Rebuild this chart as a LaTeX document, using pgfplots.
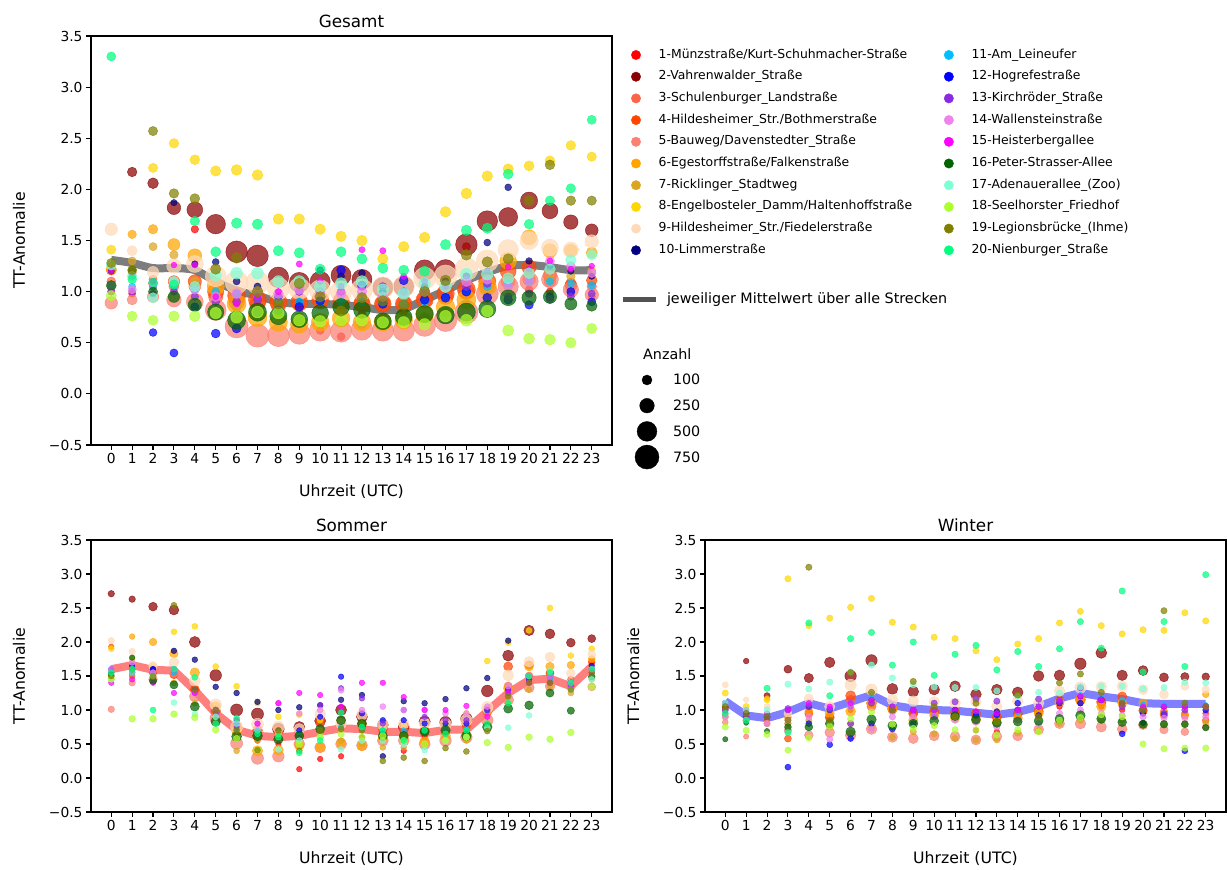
\documentclass[border=0pt]{standalone}
\usepackage{fontspec}
\setmainfont{DejaVu Sans}
\usepackage{pgfplots}
\usepackage{pgfplotstable}
\pgfplotsset{compat=1.18}

\newcommand{\tickfont}{\fontsize{13.8}{16}\selectfont}
\newcommand{\labfont}{\fontsize{15.7}{18}\selectfont}
\newcommand{\titfont}{\fontsize{16.8}{19}\selectfont}
\newcommand{\legfont}{\fontsize{12.4}{15}\selectfont}
\newcommand{\legfontb}{\fontsize{14.3}{17}\selectfont}

\definecolor{c1}{HTML}{FF0000}
\definecolor{c2}{HTML}{8B0000}
\definecolor{c3}{HTML}{FF6347}
\definecolor{c4}{HTML}{FF4500}
\definecolor{c5}{HTML}{FA8072}
\definecolor{c6}{HTML}{FFA500}
\definecolor{c7}{HTML}{DAA520}
\definecolor{c8}{HTML}{FFD700}
\definecolor{c9}{HTML}{FFDAB9}
\definecolor{c10}{HTML}{000080}
\definecolor{c11}{HTML}{00BFFF}
\definecolor{c12}{HTML}{0000FF}
\definecolor{c13}{HTML}{8A2BE2}
\definecolor{c14}{HTML}{EE82EE}
\definecolor{c15}{HTML}{FF00FF}
\definecolor{c16}{HTML}{006400}
\definecolor{c17}{HTML}{7FFFD4}
\definecolor{c18}{HTML}{ADFF2F}
\definecolor{c19}{HTML}{808000}
\definecolor{c20}{HTML}{00FF7F}

% TT-Anomalie per station and hour (Gesamt)
\pgfplotstableread{
h a1 a2 a3 a4 a5 a6 a7 a8 a9 a10 a11 a12 a13 a14 a15 a16 a17 a18 a19 a20
0 1.00 nan 1.10 1.21 0.89 1.22 1.25 1.41 1.61 1.20 1.05 nan 1.00 1.05 1.20 1.06 1.26 0.96 1.28 3.30
1 0.98 2.17 1.15 1.19 0.92 1.56 1.30 nan 1.40 1.15 1.05 nan 1.00 1.02 1.15 1.21 1.15 0.76 1.21 1.12
2 1.05 2.06 1.12 1.08 0.95 1.61 1.44 2.21 1.19 1.10 1.05 0.60 0.98 1.08 1.10 1.00 0.94 0.72 2.57 1.09
3 1.08 1.82 1.05 1.10 0.92 1.46 1.36 2.45 1.25 1.87 1.05 0.40 1.00 1.10 1.26 0.95 1.10 0.76 1.96 1.07
4 1.61 1.80 1.05 1.10 0.90 1.35 1.10 2.29 1.27 1.27 1.02 0.85 0.95 1.02 1.26 0.87 1.05 0.76 1.91 1.69
5 0.98 1.66 0.95 1.00 0.82 1.05 0.95 2.18 1.15 1.29 1.00 0.59 0.90 0.95 0.95 0.80 1.16 0.79 1.22 1.39
6 0.90 1.39 0.90 0.96 0.66 0.88 0.85 2.19 1.09 1.10 0.98 0.64 0.90 0.98 0.88 0.72 1.18 0.75 1.33 1.67
7 0.85 1.35 0.88 0.92 0.57 0.75 0.75 2.14 1.09 1.05 0.95 0.80 0.92 1.00 0.95 0.80 1.18 0.80 1.00 1.66
8 0.80 1.14 0.87 0.90 0.57 0.70 0.82 1.71 1.03 0.95 0.92 0.82 0.95 0.98 1.00 0.76 1.10 0.79 0.88 1.40
9 0.70 1.09 0.88 0.90 0.59 0.68 0.75 1.71 1.03 0.90 0.90 0.85 1.00 1.02 1.27 0.73 1.10 0.72 1.08 1.38
10 0.62 1.10 0.90 0.92 0.62 0.70 0.72 1.61 1.01 1.21 0.90 0.91 1.00 1.00 1.10 0.79 1.05 0.71 0.95 1.22
11 0.56 1.16 0.92 0.90 0.61 0.74 0.70 1.54 1.00 1.15 0.90 1.21 1.00 0.98 1.05 0.85 1.08 0.72 0.81 1.39
12 0.78 1.12 0.90 0.88 0.63 0.70 0.68 1.50 1.02 1.18 0.90 1.06 1.05 1.00 1.41 0.82 1.10 0.72 0.94 1.32
13 0.75 1.04 0.88 0.88 0.62 0.70 0.70 1.32 1.04 1.00 0.88 0.88 1.05 0.95 1.40 0.71 1.02 0.70 0.91 1.23
14 0.80 1.05 0.88 0.88 0.62 0.72 0.72 1.44 1.05 1.00 0.88 1.11 1.00 0.98 1.15 0.75 0.98 0.70 0.87 1.21
15 0.88 1.21 0.92 0.92 0.67 0.78 0.75 1.53 1.13 1.05 0.90 0.92 1.02 1.00 1.10 0.78 1.08 0.68 1.00 1.20
16 1.00 1.21 0.95 0.98 0.72 0.85 0.80 1.78 1.15 1.10 0.95 0.94 1.08 1.04 1.05 0.77 1.05 0.76 1.11 1.46
17 1.44 1.46 1.00 1.02 0.80 0.92 0.88 1.96 1.22 1.15 1.00 1.00 1.05 1.10 1.15 0.80 1.17 0.72 1.36 1.60
18 1.10 1.69 1.05 1.10 0.98 1.05 0.95 2.13 1.30 1.48 1.05 0.94 1.08 1.12 1.20 0.83 1.17 0.81 1.29 1.62
19 1.05 1.73 1.10 1.20 1.05 1.30 1.05 2.20 1.41 2.02 1.08 0.92 0.95 1.05 1.24 0.94 1.13 0.62 1.32 2.15
20 1.02 1.89 1.12 1.24 1.10 1.53 1.10 2.23 1.50 1.30 1.10 0.87 0.98 1.10 1.22 0.94 1.18 0.54 1.89 1.66
21 1.00 1.79 1.10 1.16 1.12 1.40 1.12 2.28 1.43 1.25 1.10 0.95 0.92 1.30 1.30 0.95 1.22 0.53 2.24 1.89
22 0.98 1.68 1.08 1.06 1.02 1.40 1.15 2.43 1.41 1.20 1.08 1.00 0.95 1.25 1.22 0.88 1.31 0.50 1.89 2.01
23 0.95 1.60 1.05 1.11 0.97 1.38 1.20 2.32 1.49 1.15 1.06 0.90 0.98 1.18 1.25 0.86 1.36 0.64 1.89 2.68
}\gval
% Anzahl per station and hour (Gesamt)
\pgfplotstableread{
h n1 n2 n3 n4 n5 n6 n7 n8 n9 n10 n11 n12 n13 n14 n15 n16 n17 n18 n19 n20
0 42 150 75 100 175 110 63 84 175 28 42 56 42 70 21 100 105 105 84 77
1 40 90 45 60 105 68 59 79 105 26 40 53 40 66 20 60 99 99 79 73
2 41 120 60 80 140 90 61 82 140 27 41 54 41 68 20 80 102 102 82 75
3 44 210 105 140 245 158 67 89 245 30 44 59 44 74 22 140 111 111 89 81
4 48 300 150 200 350 225 72 96 350 32 48 64 48 80 24 200 120 120 96 88
5 55 480 240 320 560 360 83 110 560 37 55 74 55 92 28 320 138 138 110 101
6 60 600 300 400 700 450 90 120 700 40 60 80 60 100 30 400 150 150 120 110
7 60 600 300 400 700 450 90 120 700 40 60 80 60 100 30 400 150 150 120 110
8 58 540 270 360 630 405 86 115 630 38 58 77 58 96 29 360 144 144 115 106
9 56 510 255 340 595 383 85 113 595 38 56 75 56 94 28 340 141 141 113 103
10 56 510 255 340 595 383 85 113 595 38 56 75 56 94 28 340 141 141 113 103
11 56 510 255 340 595 383 85 113 595 38 56 75 56 94 28 340 141 141 113 103
12 56 510 255 340 595 383 85 113 595 38 56 75 56 94 28 340 141 141 113 103
13 56 510 255 340 595 383 85 113 595 38 56 75 56 94 28 340 141 141 113 103
14 56 510 255 340 595 383 85 113 595 38 56 75 56 94 28 340 141 141 113 103
15 58 540 270 360 630 405 86 115 630 38 58 77 58 96 29 360 144 144 115 106
16 59 570 285 380 665 428 88 118 665 39 59 78 59 98 29 380 147 147 118 108
17 60 600 300 400 700 450 90 120 700 40 60 80 60 100 30 400 150 150 120 110
18 58 540 270 360 630 405 86 115 630 38 58 77 58 96 29 360 144 144 115 106
19 54 450 225 300 525 338 81 108 525 36 54 72 54 90 27 300 135 135 108 99
20 50 360 180 240 420 270 76 101 420 34 50 67 50 84 25 240 126 126 101 92
21 48 300 150 200 350 225 72 96 350 32 48 64 48 80 24 200 120 120 96 88
22 46 240 120 160 280 180 68 91 280 30 46 61 46 76 23 160 114 114 91 84
23 43 180 90 120 210 135 65 86 210 29 43 58 43 72 22 120 108 108 86 79
}\gcnt

% Sommer
\pgfplotstableread{
h a1 a2 a3 a4 a5 a6 a7 a8 a9 a10 a11 a12 a13 a14 a15 a16 a17 a18 a19 a20
0 1.55 2.71 1.55 1.93 1.01 1.45 1.45 1.90 2.02 1.50 1.55 1.60 1.55 1.60 1.40 1.52 1.45 1.46 1.50 1.55
1 1.50 2.63 1.55 1.54 1.40 2.08 1.50 1.75 1.86 1.55 1.60 1.65 1.60 1.70 1.45 1.77 1.55 0.87 1.60 1.60
2 1.55 2.52 1.55 1.54 1.45 2.00 1.45 1.65 1.65 1.60 1.55 1.60 1.55 1.55 1.40 1.43 1.50 0.87 1.50 1.00
3 1.60 2.47 1.52 1.52 1.55 1.83 1.40 2.15 1.70 1.87 1.55 1.60 1.60 1.60 1.25 1.37 1.11 0.94 2.54 1.60
4 1.30 2.00 1.30 1.30 1.20 1.55 1.10 2.23 1.43 1.74 1.25 1.30 1.30 1.25 1.25 1.05 0.94 0.89 1.30 1.48
5 0.95 1.51 1.00 0.98 0.88 1.05 0.95 1.64 1.08 1.34 0.95 1.00 1.00 1.00 0.95 0.83 0.90 0.71 1.00 0.80
6 0.65 1.00 0.70 0.75 0.51 0.70 0.40 1.35 0.75 1.25 0.72 0.80 0.75 0.85 0.85 0.61 0.80 0.58 0.70 0.88
7 0.55 0.94 0.62 0.70 0.29 0.40 0.55 1.10 0.79 1.12 0.65 0.70 0.70 0.80 0.80 0.62 0.70 0.41 0.41 0.65
8 0.50 0.72 0.66 0.71 0.32 0.41 0.60 0.90 0.75 1.00 0.62 0.65 0.70 1.10 1.10 0.57 0.42 0.65 0.70 0.60
9 0.13 0.75 0.62 0.68 0.50 0.48 0.50 0.93 0.72 1.04 0.65 0.70 0.59 0.95 1.25 0.62 0.55 0.50 0.40 0.37
10 0.28 0.84 0.80 0.85 0.45 0.45 0.60 0.85 0.94 1.07 0.70 0.90 1.07 1.00 1.22 0.72 0.60 0.60 0.70 0.55
11 0.32 1.00 0.82 0.84 0.50 0.52 0.55 0.82 0.80 1.15 0.75 1.49 1.32 1.29 1.05 0.85 0.42 0.65 0.72 0.96
12 0.60 0.90 0.75 0.80 0.48 0.47 0.50 0.80 0.93 1.22 0.72 0.95 1.17 1.00 1.40 0.80 0.55 0.60 0.70 0.75
13 0.55 0.78 0.70 0.72 0.55 0.58 0.45 0.75 0.78 0.32 0.70 0.85 0.80 1.05 1.40 0.62 0.55 0.62 0.25 0.70
14 0.40 0.75 0.70 0.72 0.55 0.60 0.45 0.78 0.80 1.13 0.70 0.85 1.00 1.00 1.19 0.62 0.50 0.55 0.30 0.55
15 0.60 0.83 0.68 0.70 0.50 0.54 0.50 0.78 0.80 1.10 0.68 0.80 0.90 1.00 1.00 0.68 0.41 0.50 0.25 0.70
16 0.65 0.82 0.72 0.78 0.55 0.62 0.55 0.82 0.79 1.16 0.72 0.80 0.85 0.95 1.00 0.70 0.55 0.55 0.44 0.65
17 0.70 0.87 0.75 0.80 0.60 0.62 0.55 0.95 0.85 1.32 0.72 0.80 0.85 0.95 1.06 0.62 0.60 0.60 0.39 0.70
18 1.00 1.28 1.00 0.98 0.85 1.00 0.80 1.72 1.04 1.47 0.98 1.00 1.00 1.05 0.90 0.75 0.74 0.52 0.69 0.80
19 1.30 1.80 1.35 1.64 1.15 1.32 1.10 1.99 1.51 2.02 1.25 1.30 1.30 1.35 1.25 1.02 0.74 0.45 1.20 1.10
20 1.45 2.17 1.50 1.66 1.33 1.64 1.30 2.17 1.71 1.50 1.45 1.45 1.45 1.50 1.40 1.07 0.92 0.60 1.40 1.50
21 1.54 2.12 1.55 1.54 1.35 1.64 1.35 2.50 1.78 1.50 1.45 1.50 1.50 1.50 1.40 1.25 1.57 0.57 1.40 1.55
22 1.40 1.99 1.45 1.35 1.35 1.66 1.25 1.80 1.54 1.40 1.35 1.40 1.40 1.40 1.35 0.99 1.30 0.67 1.30 1.40
23 1.70 2.05 1.72 1.70 1.34 1.75 1.45 1.90 1.82 1.60 1.60 1.65 1.60 1.60 1.55 1.49 1.45 1.34 1.55 1.60
}\sval
\pgfplotstableread{
h n1 n2 n3 n4 n5 n6 n7 n8 n9 n10 n11 n12 n13 n14 n15 n16 n17 n18 n19 n20
0 20 32 16 20 32 22 25 25 32 22 20 20 20 25 20 20 25 35 25 25
1 20 32 16 20 32 22 25 25 32 22 20 20 20 25 20 20 25 35 25 25
2 20 72 36 45 72 50 25 25 72 22 20 20 20 25 20 45 25 35 25 25
3 20 96 48 60 96 66 25 25 96 22 20 20 20 25 20 60 25 35 25 25
4 20 128 64 80 128 88 25 25 128 22 20 20 20 25 20 80 25 35 25 25
5 20 144 72 90 144 99 25 25 144 22 20 20 20 25 20 90 25 35 25 25
6 20 160 80 100 160 110 25 25 160 22 20 20 20 25 20 100 25 35 25 25
7 20 160 80 100 160 110 25 25 160 22 20 20 20 25 20 100 25 35 25 25
8 20 144 72 90 144 99 25 25 144 22 20 20 20 25 20 90 25 35 25 25
9 20 128 64 80 128 88 25 25 128 22 20 20 20 25 20 80 25 35 25 25
10 20 128 64 80 128 88 25 25 128 22 20 20 20 25 20 80 25 35 25 25
11 20 128 64 80 128 88 25 25 128 22 20 20 20 25 20 80 25 35 25 25
12 20 128 64 80 128 88 25 25 128 22 20 20 20 25 20 80 25 35 25 25
13 20 128 64 80 128 88 25 25 128 22 20 20 20 25 20 80 25 35 25 25
14 20 128 64 80 128 88 25 25 128 22 20 20 20 25 20 80 25 35 25 25
15 20 136 68 85 136 94 25 25 136 22 20 20 20 25 20 85 25 35 25 25
16 20 144 72 90 144 99 25 25 144 22 20 20 20 25 20 90 25 35 25 25
17 20 144 72 90 144 99 25 25 144 22 20 20 20 25 20 90 25 35 25 25
18 20 144 72 90 144 99 25 25 144 22 20 20 20 25 20 90 25 35 25 25
19 20 128 64 80 128 88 25 25 128 22 20 20 20 25 20 80 25 35 25 25
20 20 112 56 70 112 77 25 25 112 22 20 20 20 25 20 70 25 35 25 25
21 20 96 48 60 96 66 25 25 96 22 20 20 20 25 20 60 25 35 25 25
22 20 72 36 45 72 50 25 25 72 22 20 20 20 25 20 45 25 35 25 25
23 20 56 28 35 56 39 25 25 56 22 20 20 20 25 20 35 25 35 25 25
}\scnt

% Winter
\pgfplotstableread{
h a1 a2 a3 a4 a5 a6 a7 a8 a9 a10 a11 a12 a13 a14 a15 a16 a17 a18 a19 a20
0 1.05 1.03 0.98 0.93 0.82 1.00 0.90 1.25 1.37 1.10 1.10 1.10 1.00 0.90 1.10 0.57 1.10 0.75 1.05 0.95
1 0.90 1.72 0.95 1.00 0.61 0.95 0.85 1.05 1.15 0.95 0.95 0.95 0.90 0.85 1.00 0.81 1.00 0.70 0.95 0.85
2 0.85 1.21 0.85 0.80 0.80 1.17 0.80 1.15 1.05 0.90 0.90 0.90 0.90 0.80 0.95 0.69 1.00 0.64 0.90 1.32
3 0.90 1.60 0.80 0.58 0.70 0.89 0.80 2.93 0.95 1.00 1.00 0.16 1.02 0.85 1.00 0.75 1.38 0.41 0.85 0.67
4 1.00 1.47 0.95 0.95 0.63 0.98 0.85 2.24 1.17 1.05 1.08 0.80 1.05 0.90 1.10 0.75 1.31 0.59 3.10 2.28
5 0.95 1.70 0.90 0.89 0.67 0.95 0.75 2.35 1.05 1.00 1.02 0.49 1.01 0.57 1.05 0.80 1.41 0.76 0.85 1.21
6 1.00 1.50 1.15 1.21 0.63 0.98 0.80 2.51 1.37 1.05 1.10 0.58 0.80 1.05 1.10 0.68 1.56 0.87 1.55 2.05
7 1.10 1.73 1.05 1.10 0.72 1.10 0.75 2.64 1.30 1.15 1.18 0.80 1.10 0.72 1.15 0.86 1.66 0.97 1.26 2.14
8 1.00 1.31 1.00 1.02 0.60 1.02 0.60 2.29 1.15 1.05 1.05 0.72 1.00 0.90 1.05 0.77 1.47 0.79 1.00 1.66
9 0.95 1.27 0.95 0.95 0.58 0.85 0.68 2.22 1.13 1.00 1.00 0.80 1.00 0.90 1.00 0.80 1.37 0.73 1.42 2.00
10 0.95 1.30 0.95 0.98 0.62 0.92 0.65 2.07 1.12 1.00 1.00 0.90 1.10 0.90 1.00 0.84 1.34 0.77 1.05 1.51
11 0.90 1.35 0.95 0.97 0.61 0.88 0.58 2.05 1.10 1.00 0.98 1.00 1.12 0.85 1.00 0.91 1.33 0.71 0.90 1.82
12 0.70 1.23 0.90 0.95 0.56 0.85 0.56 1.87 1.12 0.96 0.95 0.92 1.16 0.82 0.98 0.86 1.33 0.71 1.10 1.95
13 0.68 1.30 0.88 0.90 0.61 0.82 0.56 1.74 1.05 0.98 0.92 0.93 1.13 0.75 0.95 0.81 1.28 0.63 0.83 1.59
14 0.90 1.26 0.92 0.95 0.62 0.88 0.66 1.97 1.13 1.00 0.97 1.10 1.00 0.85 1.00 0.83 1.20 0.71 1.22 1.86
15 0.95 1.50 1.00 0.98 0.71 0.95 0.70 2.05 1.10 1.05 1.05 0.92 1.16 0.80 1.05 0.84 1.26 0.68 0.90 1.64
16 1.05 1.51 1.10 1.14 0.80 1.12 0.80 2.28 1.28 1.15 1.15 1.10 1.12 0.95 1.15 0.87 1.25 0.85 1.40 1.90
17 1.10 1.68 1.15 1.15 0.80 1.15 0.85 2.45 1.33 1.20 1.22 1.10 1.33 1.00 1.20 0.92 1.34 0.89 1.53 2.30
18 1.05 1.84 1.10 1.12 0.75 1.05 0.85 2.24 1.34 1.15 1.18 1.15 1.15 0.95 1.15 0.87 1.35 0.93 1.26 1.91
19 1.00 1.51 1.10 1.20 0.72 1.10 0.85 2.12 1.35 1.10 1.15 0.65 1.05 0.92 1.10 0.82 1.35 0.90 1.10 2.75
20 0.95 1.58 1.00 0.99 0.78 1.10 0.80 2.18 1.30 0.81 1.08 0.95 1.02 0.90 1.05 0.79 1.31 0.50 1.00 1.56
21 0.95 1.48 0.98 0.93 0.71 0.95 0.80 2.17 1.23 1.05 1.07 0.93 0.95 0.88 1.05 0.79 1.33 0.43 2.46 2.30
22 0.95 1.49 0.95 0.92 0.68 0.92 0.80 2.43 1.35 1.05 1.07 0.40 1.00 0.88 1.05 0.79 1.41 0.44 1.10 1.64
23 0.95 1.49 0.95 0.85 0.75 1.23 0.82 2.31 1.30 1.05 1.07 1.00 1.05 0.90 1.05 0.74 1.40 0.44 1.05 2.99
}\wval
\pgfplotstableread{
h n1 n2 n3 n4 n5 n6 n7 n8 n9 n10 n11 n12 n13 n14 n15 n16 n17 n18 n19 n20
0 20 28 16 20 24 20 30 30 28 20 20 25 30 30 20 18 30 30 30 30
1 20 21 12 15 18 15 30 30 21 20 20 25 30 30 20 14 30 30 30 30
2 20 28 16 20 24 20 30 30 28 20 20 25 30 30 20 18 30 30 30 30
3 20 56 32 40 48 40 30 30 56 20 20 25 30 30 20 36 30 30 30 30
4 20 84 48 60 72 60 30 30 84 20 20 25 30 30 20 54 30 30 30 30
5 20 112 64 80 96 80 30 30 112 20 20 25 30 30 20 72 30 30 30 30
6 20 140 80 100 120 100 30 30 140 20 20 25 30 30 20 90 30 30 30 30
7 20 140 80 100 120 100 30 30 140 20 20 25 30 30 20 90 30 30 30 30
8 20 126 72 90 108 90 30 30 126 20 20 25 30 30 20 81 30 30 30 30
9 20 119 68 85 102 85 30 30 119 20 20 25 30 30 20 77 30 30 30 30
10 20 119 68 85 102 85 30 30 119 20 20 25 30 30 20 77 30 30 30 30
11 20 119 68 85 102 85 30 30 119 20 20 25 30 30 20 77 30 30 30 30
12 20 119 68 85 102 85 30 30 119 20 20 25 30 30 20 77 30 30 30 30
13 20 119 68 85 102 85 30 30 119 20 20 25 30 30 20 77 30 30 30 30
14 20 119 68 85 102 85 30 30 119 20 20 25 30 30 20 77 30 30 30 30
15 20 119 68 85 102 85 30 30 119 20 20 25 30 30 20 77 30 30 30 30
16 20 119 68 85 102 85 30 30 119 20 20 25 30 30 20 77 30 30 30 30
17 20 140 80 100 120 100 30 30 140 20 20 25 30 30 20 90 30 30 30 30
18 20 126 72 90 108 90 30 30 126 20 20 25 30 30 20 81 30 30 30 30
19 20 112 64 80 96 80 30 30 112 20 20 25 30 30 20 72 30 30 30 30
20 20 98 56 70 84 70 30 30 98 20 20 25 30 30 20 63 30 30 30 30
21 20 77 44 55 66 55 30 30 77 20 20 25 30 30 20 50 30 30 30 30
22 20 63 36 45 54 45 30 30 63 20 20 25 30 30 20 41 30 30 30 30
23 20 49 28 35 42 35 30 30 49 20 20 25 30 30 20 32 30 30 30 30
}\wcnt

% mean over all stations: g = Gesamt, s = Sommer, w = Winter
\pgfplotstableread{
h g s w
0 1.31 1.60 1.13
1 1.28 1.66 0.92
2 1.23 1.59 0.88
3 1.23 1.58 0.97
4 1.21 1.29 1.10
5 1.10 0.95 1.02
6 1.01 0.71 1.12
7 0.96 0.62 1.22
8 0.90 0.60 1.07
9 0.88 0.62 1.02
10 0.88 0.68 1.00
11 0.87 0.73 0.99
12 0.85 0.72 0.96
13 0.82 0.68 0.93
14 0.83 0.68 0.97
15 0.92 0.66 1.05
16 1.01 0.71 1.17
17 1.11 0.71 1.25
18 1.19 0.98 1.20
19 1.25 1.25 1.16
20 1.26 1.44 1.10
21 1.24 1.46 1.09
22 1.21 1.35 1.09
23 1.21 1.64 1.09
}\means

\pgfplotsinvokeforeach{1,...,20}{%
  \pgfplotstablecreatecol[copy column from table={\gcnt}{n#1}]{n#1}{\gval}%
  \pgfplotstablecreatecol[copy column from table={\scnt}{n#1}]{n#1}{\sval}%
  \pgfplotstablecreatecol[copy column from table={\wcnt}{n#1}]{n#1}{\wval}%
}

\pgfplotsset{
  panel/.style={
    scale only axis, anchor=south west, width=521pt,
    xmin=-0.97, xmax=23.97, ymin=-0.5, ymax=3.5,
    xtick={0,...,23},
    ytick={-0.5,0,0.5,1,1.5,2,2.5,3,3.5},
    yticklabels={−0.5,0.0,0.5,1.0,1.5,2.0,2.5,3.0,3.5},
    /pgf/number format/assume math mode=true,
    tick align=outside, tick pos=left, major tick length=5pt,
    every tick/.style={black, line width=1.1pt},
    axis line style={line width=1.1pt},
    ticklabel style={font=\tickfont},
    xlabel={Uhrzeit (UTC)}, ylabel={TT-Anomalie},
    every axis x label/.style={at={(axis description cs:0.5,0)}, anchor=base, yshift=-52pt, font=\labfont},
    every axis y label/.style={at={(axis description cs:0,0.5)}, xshift=-66pt, rotate=90, anchor=base, font=\labfont},
    every axis title/.style={at={(axis description cs:0.5,1)}, anchor=base, yshift=8.5pt, font=\titfont},
  },
  pts/.style={forget plot, scatter, only marks, mark=*,
    scatter/use mapped color={draw=c#1, fill=c#1, fill opacity=0.72, draw opacity=0.72, line width=0.5pt},
    visualization depends on={0.4*sqrt(\thisrow{n#1})+1 \as \msz},
    scatter/@pre marker code/.append style={/tikz/mark size=\msz}},
  legdot/.style={legend image code/.code={\draw[##1] plot[only marks] coordinates {(0pt,0pt)};}},
}

\begin{document}
\begin{tikzpicture}
\useasboundingbox (0pt,0pt) rectangle (1227pt,870pt);

% Gesamt
\begin{axis}[panel, at={(91pt,425pt)}, height=409pt, title={Gesamt},
  legdot, legend columns=10, transpose legend, legend cell align=left,
  legend style={draw=none, fill=none, inner sep=0pt, outer sep=0pt,
    at={(axis description cs:1,1)}, anchor=north west, xshift=19.3pt, yshift=-12.75pt,
    font=\legfont, row sep=9.2pt,
    nodes={inner sep=0pt, text height=9.3pt, text depth=3.2pt},
    /tikz/every odd column/.append style={column sep=18pt},
    /tikz/every even column/.append style={column sep=32pt}}]
  \pgfplotsinvokeforeach{1,...,20}{\addplot[pts=#1] table[x=h, y=a#1] {\gval};}
  \addplot[forget plot, smooth, line width=8pt, color=black!68, opacity=0.75, line join=round] table[x=h, y=g] {\means};
  \addlegendimage{mark=*, mark size=4.7pt, c1}\addlegendentry{1-Münzstraße/Kurt-Schuhmacher-Straße}
  \addlegendimage{mark=*, mark size=4.7pt, c2}\addlegendentry{2-Vahrenwalder\_Straße}
  \addlegendimage{mark=*, mark size=4.7pt, c3}\addlegendentry{3-Schulenburger\_Landstraße}
  \addlegendimage{mark=*, mark size=4.7pt, c4}\addlegendentry{4-Hildesheimer\_Str./Bothmerstraße}
  \addlegendimage{mark=*, mark size=4.7pt, c5}\addlegendentry{5-Bauweg/Davenstedter\_Straße}
  \addlegendimage{mark=*, mark size=4.7pt, c6}\addlegendentry{6-Egestorffstraße/Falkenstraße}
  \addlegendimage{mark=*, mark size=4.7pt, c7}\addlegendentry{7-Ricklinger\_Stadtweg}
  \addlegendimage{mark=*, mark size=4.7pt, c8}\addlegendentry{8-Engelbosteler\_Damm/Haltenhoffstraße}
  \addlegendimage{mark=*, mark size=4.7pt, c9}\addlegendentry{9-Hildesheimer\_Str./Fiedelerstraße}
  \addlegendimage{mark=*, mark size=4.7pt, c10}\addlegendentry{10-Limmerstraße}
  \addlegendimage{mark=*, mark size=4.7pt, c11}\addlegendentry{11-Am\_Leineufer}
  \addlegendimage{mark=*, mark size=4.7pt, c12}\addlegendentry{12-Hogrefestraße}
  \addlegendimage{mark=*, mark size=4.7pt, c13}\addlegendentry{13-Kirchröder\_Straße}
  \addlegendimage{mark=*, mark size=4.7pt, c14}\addlegendentry{14-Wallensteinstraße}
  \addlegendimage{mark=*, mark size=4.7pt, c15}\addlegendentry{15-Heisterbergallee}
  \addlegendimage{mark=*, mark size=4.7pt, c16}\addlegendentry{16-Peter-Strasser-Allee}
  \addlegendimage{mark=*, mark size=4.7pt, c17}\addlegendentry{17-Adenauerallee\_(Zoo)}
  \addlegendimage{mark=*, mark size=4.7pt, c18}\addlegendentry{18-Seelhorster\_Friedhof}
  \addlegendimage{mark=*, mark size=4.7pt, c19}\addlegendentry{19-Legionsbrücke\_(Ihme)}
  \addlegendimage{mark=*, mark size=4.7pt, c20}\addlegendentry{20-Nienburger\_Straße}
\end{axis}

% Sommer
\begin{axis}[panel, at={(91pt,58pt)}, height=272pt, title={Sommer}]
  \pgfplotsinvokeforeach{1,...,20}{\addplot[pts=#1] table[x=h, y=a#1] {\sval};}
  \addplot[forget plot, line width=8pt, color=red, opacity=0.5, line join=round] table[x=h, y=s] {\means};
\end{axis}

% Winter
\begin{axis}[panel, at={(705pt,58pt)}, height=272pt, title={Winter}]
  \pgfplotsinvokeforeach{1,...,20}{\addplot[pts=#1] table[x=h, y=a#1] {\wval};}
  \addplot[forget plot, line width=8pt, color=blue, opacity=0.5, line join=round] table[x=h, y=w] {\means};
\end{axis}

% legend of the mean line
\begin{axis}[at={(620.5pt,570pt)}, anchor=south west, scale only axis, width=1pt, height=1pt,
  hide axis, xmin=0, xmax=1, ymin=0, ymax=1,
  legend image code/.code={\draw[#1] (0pt,0pt) -- (33pt,0pt);},
  legend cell align=left,
  legend style={draw=none, fill=none, inner sep=0pt, outer sep=0pt,
    at={(axis description cs:0,0)}, anchor=west, font=\legfontb,
    nodes={inner sep=0pt, text height=9.3pt, text depth=3.2pt},
    /tikz/every odd column/.append style={column sep=8.5pt}}]
  \addlegendimage{line width=5pt, color=black!68}
  \addlegendentry{jeweiliger Mittelwert über alle Strecken}
\end{axis}

% legend of the marker sizes
\begin{axis}[at={(635pt,502pt)}, anchor=south west, scale only axis, width=1pt, height=1pt,
  hide axis, xmin=0, xmax=1, ymin=0, ymax=1,
  legdot, legend cell align=left,
  legend style={draw=none, fill=none, inner sep=0pt, outer sep=0pt,
    at={(axis description cs:0,0)}, anchor=north west, font=\legfontb, row sep=1.7pt,
    nodes={inner sep=0pt, text height=17pt, text depth=7pt},
    /tikz/every odd column/.append style={column sep=14pt}}]
  \addlegendimage{mark=*, black, mark size=5pt}\addlegendentry{100}
  \addlegendimage{mark=*, black, mark size=7.3pt}\addlegendentry{250}
  \addlegendimage{mark=*, black, mark size=9.9pt}\addlegendentry{500}
  \addlegendimage{mark=*, black, mark size=12pt}\addlegendentry{750}
\end{axis}
\node[anchor=base west, font=\legfontb, inner sep=0pt] at (643pt,510.5pt) {Anzahl};
\end{tikzpicture}
\end{document}
